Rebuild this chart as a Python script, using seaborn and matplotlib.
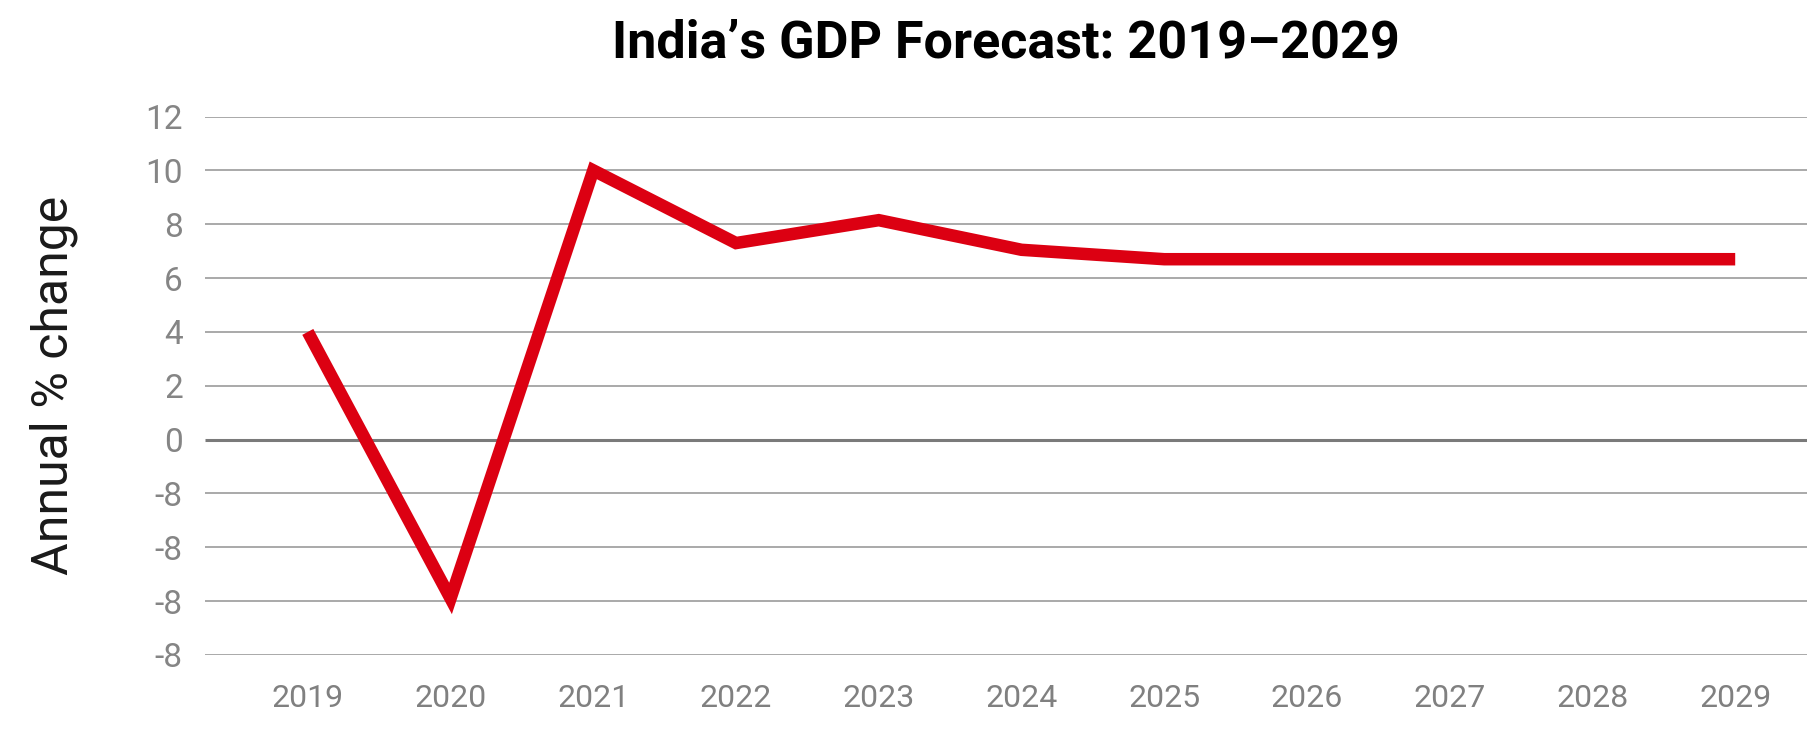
import matplotlib
matplotlib.use("Agg")
import matplotlib.pyplot as plt
import seaborn as sns
import pandas as pd

# values
years = [2019, 2020, 2021, 2022, 2023, 2024, 2025, 2026, 2027, 2028, 2029]
gdp_growth = [4.0, -5.9, 10.0, 7.3, 8.15, 7.05, 6.7, 6.7, 6.7, 6.7, 6.7]
y_ticks = [12, 10, 8, 6, 4, 2, 0, -2, -4, -6, -8]
y_tick_labels = ['12', '10', '8', '6', '4', '2', '0', '-8', '-8', '-8', '-8']

df = pd.DataFrame({'year': years, 'growth': gdp_growth})

sns.set_style("white")
plt.rcParams['font.family'] = ['Roboto', 'DejaVu Sans']

fig = plt.figure(figsize=(18.08, 7.31), dpi=100)
ax = fig.add_axes([0.1134, 0.104, 0.8866, 0.7366])

# grid lines
for t in y_ticks:
    if t == 0:
        ax.axhline(t, color='#7a7a7a', lw=2.2, zorder=1)
    else:
        ax.axhline(t, color='#a3a3a3', lw=1.3, zorder=1)

sns.lineplot(data=df, x='year', y='growth', ax=ax, color='#dc0012',
             linewidth=9, zorder=3)
for ln in ax.lines:
    ln.set_solid_joinstyle('miter')
    ln.set_solid_capstyle('butt')

ax.set_xlim(2018.28, 2029.51)
ax.set_ylim(-8, 12)
ax.set_xticks(years)
ax.set_xticklabels([str(y) for y in years], color='#808080', fontsize=23)
ax.set_yticks(y_ticks)
ax.set_yticklabels(y_tick_labels, color='#858585', fontsize=24)
ax.tick_params(axis='x', length=0, pad=21)
ax.tick_params(axis='y', length=0, pad=16)
for s in ax.spines.values():
    s.set_visible(False)

ax.set_xlabel('')
ax.set_ylabel('')
fig.text(0.030, 0.104 + 0.7366 / 2, 'Annual % change', rotation=90,
         ha='center', va='center', fontsize=36, color='#1a1a1a')

fig.text(0.5565, 0.941, 'India\u2019s GDP Forecast: 2019\u20132029',
         ha='center', va='center', fontsize=37.5, fontweight='bold',
         color='black')

fig.savefig('out.png', dpi=100)
